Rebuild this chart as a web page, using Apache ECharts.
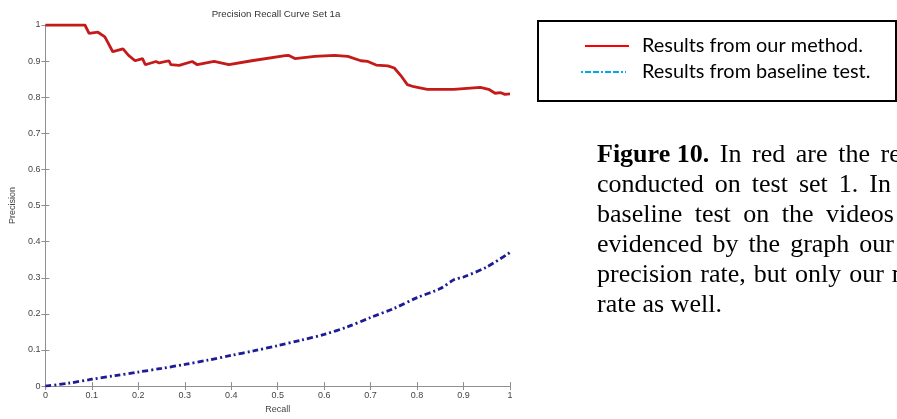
<!DOCTYPE html>
<html>
<head>
<meta charset="utf-8">
<script src="https://cdn.jsdelivr.net/npm/echarts@6/dist/echarts.min.js"></script>
<style>
html,body{margin:0;padding:0;background:#fff;}
#chart{width:897px;height:419px;}
</style>
</head>
<body>
<div id="chart"></div>
<script>
var chartTitle = 'Precision Recall Curve Set 1a';
var xTicks = [0, 0.1, 0.2, 0.3, 0.4, 0.5, 0.6, 0.7, 0.8, 0.9, 1];
var yTicks = [0, 0.1, 0.2, 0.3, 0.4, 0.5, 0.6, 0.7, 0.8, 0.9, 1];

var recallOurs = [0, 0.085, 0.094, 0.113, 0.128, 0.145, 0.167, 0.179, 0.193, 0.209, 0.215, 0.238, 0.245, 0.266, 0.27, 0.288, 0.316, 0.327, 0.363, 0.395, 0.444, 0.516, 0.523, 0.537, 0.58, 0.622, 0.651, 0.679, 0.694, 0.712, 0.737, 0.751, 0.765, 0.779, 0.793, 0.822, 0.879, 0.936, 0.954, 0.968, 0.979, 0.989, 1.0];
var precisionOurs = [1, 1, 0.977, 0.980, 0.967, 0.926, 0.934, 0.916, 0.901, 0.907, 0.89, 0.899, 0.895, 0.901, 0.89, 0.888, 0.899, 0.89, 0.899, 0.89, 0.901, 0.915, 0.916, 0.907, 0.913, 0.916, 0.913, 0.901, 0.899, 0.889, 0.887, 0.881, 0.860, 0.835, 0.829, 0.822, 0.822, 0.827, 0.822, 0.811, 0.813, 0.808, 0.809];

var recallBase = [0, 0.05, 0.1, 0.15, 0.2, 0.25, 0.3, 0.35, 0.4, 0.45, 0.5, 0.55, 0.6, 0.65, 0.7, 0.75, 0.8, 0.85, 0.88, 0.9, 0.95, 1.0];
var precisionBase = [0, 0.008, 0.019, 0.029, 0.039, 0.049, 0.060, 0.072, 0.085, 0.098, 0.112, 0.127, 0.143, 0.164, 0.19, 0.215, 0.245, 0.27, 0.295, 0.302, 0.33, 0.37];

var legendLabels = ['Results from our method.', 'Results from baseline test.'];
var captionBold = 'Figure 10.';
var captionLines = [
  ['In', 'red', 'are', 'the', 'results', 'of', 'our', 'method'],
  ['conducted', 'on', 'test', 'set', '1.', 'In', 'blue', 'are', 'the'],
  ['baseline', 'test', 'on', 'the', 'videos', 'of', 'test', 'set', '1.', 'As'],
  ['evidenced', 'by', 'the', 'graph', 'our', 'method', 'and', 'the'],
  ['precision', 'rate,', 'but', 'only', 'our', 'method', 'has', 'a', 'high', 'recall'],
  ['rate', 'as', 'well.']
];
// justified word spacing per caption line (layout only)
var captionGaps = [10.6, 11, 12.5, 10, 8, 6.5];

function zip(a, b) { return a.map(function (v, i) { return [v, b[i]]; }); }

var CAP_FONT = 26;
var mctx = document.createElement('canvas').getContext('2d');
function textW(t, font) { mctx.font = font; return mctx.measureText(t).width; }
var capFont = CAP_FONT + 'px "Liberation Serif"';
var capFontB = 'bold ' + CAP_FONT + 'px "Liberation Serif"';

// legend font sized so the first label spans ~221px (Calibri-like look with Lato)
var legSize = 20 * 221 / textW(legendLabels[0], '20px Lato');
var legFont = legSize.toFixed(2) + 'px Lato';

var chart = echarts.init(document.getElementById('chart'), null, {renderer: 'canvas'});
var axisGray = '#909090';
var labelStyle = {color: '#444', fontSize: 9, fontFamily: 'Liberation Sans'};

var graphics = [];
graphics.push({type: 'rect', shape: {x: 538, y: 21, width: 358, height: 80}, style: {fill: '#fff', stroke: '#000', lineWidth: 2}});
graphics.push({type: 'line', shape: {x1: 585, y1: 46, x2: 629, y2: 46}, style: {stroke: '#ff0000', lineWidth: 2}});
graphics.push({type: 'line', shape: {x1: 581, y1: 72, x2: 626, y2: 72}, style: {stroke: '#00a8ec', lineWidth: 2, lineDash: [2, 2, 6, 2, 6, 2]}});
graphics.push({type: 'text', x: 642, y: 46, style: {text: legendLabels[0], fill: '#000', font: legFont, textVerticalAlign: 'middle'}});
graphics.push({type: 'text', x: 642, y: 72, style: {text: legendLabels[1], fill: '#000', font: legFont, textVerticalAlign: 'middle'}});

captionLines.forEach(function (words, i) {
  var x = 597, y = 164 + i * 30 - 9;
  if (i === 0) {
    graphics.push({type: 'text', x: x, y: y, style: {text: captionBold, fill: '#000', font: capFontB, textVerticalAlign: 'middle'}});
    x += textW(captionBold, capFontB) + captionGaps[i];
  }
  words.forEach(function (wd) {
    graphics.push({type: 'text', x: x, y: y, style: {text: wd, fill: '#000', font: capFont, textVerticalAlign: 'middle'}});
    x += textW(wd, capFont) + captionGaps[i];
  });
});

var option = {
  backgroundColor: '#fff',
  animation: false,
  title: {text: chartTitle, left: 276, top: 9, padding: 0, textAlign: 'center',
    textStyle: {fontSize: 9.7, fontWeight: 'normal', color: '#333', fontFamily: 'Liberation Sans'}},
  grid: {left: 42, right: 387, top: 25, bottom: 24, show: false},
  xAxis: [
    {type: 'value', min: 0, max: 1, interval: 0.1, position: 'bottom',
     name: 'Recall', nameLocation: 'middle', nameGap: 15,
     nameTextStyle: {color: '#444', fontSize: 9, fontFamily: 'Liberation Sans'},
     axisLine: {show: true, lineStyle: {color: axisGray, width: 1}},
     axisTick: {show: true, inside: true, length: 4, lineStyle: {color: axisGray}},
     axisLabel: Object.assign({margin: 5, formatter: function (v) { return String(+v.toFixed(1)); }}, labelStyle),
     splitLine: {show: false}},
    {type: 'value', min: 0, max: 1, interval: 0.1, position: 'top',
     axisLine: {show: true, lineStyle: {color: axisGray, width: 1}},
     axisTick: {show: true, inside: true, length: 4, lineStyle: {color: axisGray}},
     axisLabel: {show: false}, splitLine: {show: false}}
  ],
  yAxis: [
    {type: 'value', min: 0, max: 1, interval: 0.1, position: 'left',
     name: 'Precision', nameLocation: 'middle', nameGap: 22.5, nameRotate: 90,
     nameTextStyle: {color: '#444', fontSize: 9, fontFamily: 'Liberation Sans'},
     axisLine: {show: true, lineStyle: {color: axisGray, width: 1}},
     axisTick: {show: true, inside: true, length: 4, lineStyle: {color: axisGray}},
     axisLabel: Object.assign({margin: 5, formatter: function (v) { return String(+v.toFixed(1)); }}, labelStyle),
     splitLine: {show: false}},
    {type: 'value', min: 0, max: 1, interval: 0.1, position: 'right',
     axisLine: {show: true, lineStyle: {color: axisGray, width: 1}},
     axisTick: {show: true, inside: true, length: 4, lineStyle: {color: axisGray}},
     axisLabel: {show: false}, splitLine: {show: false}}
  ],
  series: [
    {name: legendLabels[0], type: 'line', data: zip(recallOurs, precisionOurs), showSymbol: false, symbol: 'none',
     lineStyle: {color: '#c41a1a', width: 2.8}, itemStyle: {color: '#c41a1a'}, z: 3},
    {name: legendLabels[1], type: 'line', data: zip(recallBase, precisionBase), showSymbol: false, symbol: 'none', smooth: 0.3,
     lineStyle: {color: '#1c1c96', width: 2.8, type: [6, 3, 2, 3]}, itemStyle: {color: '#1c1c96'}, z: 3}
  ],
  graphic: graphics
};
chart.setOption(option);
</script>
</body>
</html>
